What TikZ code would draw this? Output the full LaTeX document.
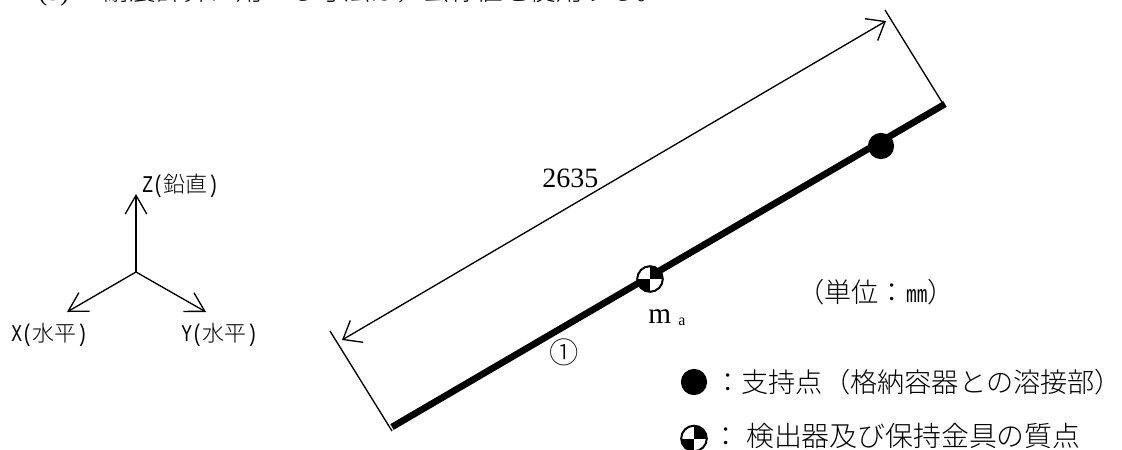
\documentclass[tikz,border=0pt]{standalone}
\usepackage{fontspec}
\usepackage{graphicx}
\setmainfont{Noto Sans CJK JP}[UprightFont={* Light}]
\newfontfamily\mon{Liberation Mono}
\newfontfamily\ser{Liberation Serif}
\usetikzlibrary{arrows.meta}
\tikzset{
  thin line/.style={draw=black,line width=1pt},
  arrow line/.style={thin line,-{Straight Barb[length=14pt,width=20pt,line width=1pt,angle'=60]}},
  dim arrow/.style={thin line,{Straight Barb[length=12pt,width=19pt,line width=1pt]}-{Straight Barb[length=12pt,width=19pt,line width=1pt]}},
  member/.style={draw=black,line width=5pt},
  support/.style={circle,fill=black,minimum size=19.7pt,inner sep=0pt},
  mass/.style={circle,draw=black,fill=white,line width=1.5pt,minimum size=19.2pt,inner sep=0pt},
  lbl/.style={inner sep=0pt,anchor=west,font=\fontsize{16.5pt}{18pt}\selectfont},
  leg/.style={inner sep=0pt,anchor=west,font=\fontsize{20.4pt}{24pt}\selectfont},
}
\newcommand{\massquarters}[1]{%
  \begin{scope}
  \clip (#1) circle[radius=9.6pt];
  \fill[black] (#1) rectangle ++(20,-20);
  \fill[black] (#1) rectangle ++(-20,20);
  \end{scope}
}
\newcommand{\ml}[1]{\scalebox{0.75}[1]{\mon\fontsize{18pt}{18pt}\selectfont #1}}
\begin{document}
\begin{tikzpicture}[x=0.75pt,y=-0.75pt]
\useasboundingbox (0,0) rectangle (1122,450);
% top text
\node[inner sep=0pt,anchor=base west,font=\fontsize{20pt}{24pt}\selectfont] (top) at (38,0.5) {\makebox[48.75pt][l]{\ser (3)}耐震計算に用いる寸法は，公称値を使用する。};
% axes
\coordinate (o) at (136,272);
\coordinate (zt) at (136,194);
\coordinate (xt) at (67,312);
\coordinate (yt) at (206,312);
\draw[arrow line] (o) -- (zt);
\draw[arrow line] (o) -- (xt);
\draw[arrow line] (o) -- (yt);
\node[lbl] (zl) at (142,186) {\ml{Z(}鉛直\ml{)}};
\node[lbl] (xl) at (11,335) {\ml{X(}水平\ml{)}};
\node[lbl] (yl) at (181,335) {\ml{Y(}水平\ml{)}};
% member
\coordinate (a) at (392,427);
\coordinate (b) at (945,104);
\draw[member] (a) -- (b);
\coordinate (e1) at (330,331);
\coordinate (e2) at (885,10);
\draw[thin line] (e1) -- (392,431);
\draw[thin line] (e2) -- (945,107);
\coordinate (d1) at (342,340);
\coordinate (d2) at (886,21);
\draw[dim arrow] (d1) -- (d2);
\node[inner sep=0pt,anchor=west,font=\ser\fontsize{21pt}{24pt}\selectfont] (dim) at (542,178) {2635};
% points
\node[support] (s) at (881,146) {};
\node[mass] (m) at (650,279) {};
\massquarters{m.center}
\node[inner sep=0pt,anchor=base west,font=\ser\fontsize{22pt}{24pt}\selectfont] (ma) at (648,323) {m};
\node[inner sep=0pt,anchor=base west,font=\ser\fontsize{12pt}{14pt}\selectfont] (maa) at (678,325) {a};
\node[inner sep=0pt,font=\fontsize{22pt}{24pt}\selectfont] (c1) at (564,352) {①};
\node[leg] (unit) at (797,292) {（単位：\ml{mm}）};
% legend
\node[support] (ls) at (694,382) {};
\node[leg] (l1) at (714,382) {：支持点（格納容器との溶接部）};
\node[mass] (lm) at (694,438.5) {};
\massquarters{lm.center}
\node[leg] (l2) at (712,436) {：\hspace{5pt}{\fontsize{20.9pt}{24pt}\selectfont 検出器及び保持金具の質点}};
\end{tikzpicture}
\end{document}
